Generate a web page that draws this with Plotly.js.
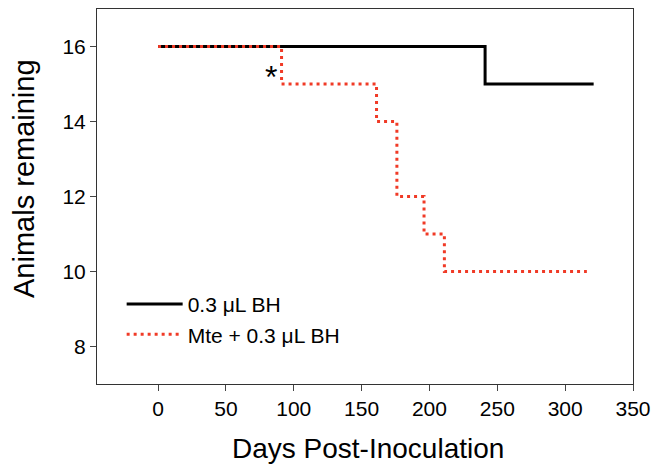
<!DOCTYPE html>
<html>
<head>
<meta charset="utf-8">
<script src="https://cdn.plot.ly/plotly-3.0.1.min.js"></script>
<style>html,body{margin:0;padding:0;background:#fff;}#chart{width:653px;height:468px;}</style>
</head>
<body>
<div id="chart"></div>
<script>
// Data
const seriesNames = ["0.3 \u03bcL BH", "Mte + 0.3 \u03bcL BH"];
const bhDays = [0, 241, 321];
const bhAnimals = [16, 15, 15];
const mteDays = [0, 91, 161, 176, 196, 211, 316];
const mteAnimals = [16, 15, 14, 12, 11, 10, 10];
const xTicks = [0, 50, 100, 150, 200, 250, 300, 350];
const yTicks = [8, 10, 12, 14, 16];
const xTitle = "Days Post-Inoculation";
const yTitle = "Animals remaining";
const starMark = {x: 83, y: 15.2, text: "*"};

const traces = [
  {x: bhDays, y: bhAnimals, name: seriesNames[0], type: "scatter", mode: "lines",
   line: {shape: "hv", color: "#000000", width: 3}},
  {x: mteDays, y: mteAnimals, name: seriesNames[1], type: "scatter", mode: "lines",
   line: {shape: "hv", color: "#f03a26", width: 3, dash: "3px,4px"}}
];

const FAM = "Arial, Liberation Sans, sans-serif";
const axisFont = {family: FAM, size: 21, color: "#000"};
const layout = {
  width: 653, height: 468,
  margin: {l: 97, r: 20, t: 9, b: 84},
  paper_bgcolor: "#fff", plot_bgcolor: "#fff",
  font: {family: FAM, color: "#000"},
  showlegend: true,
  legend: {x: 0.046, y: 0.267, xanchor: "left", yanchor: "top",
           font: {family: FAM, size: 21, color: "#000"},
           bgcolor: "rgba(0,0,0,0)", itemwidth: 56, tracegroupgap: 0},
  xaxis: {range: [-45, 350], tickvals: xTicks, ticktext: xTicks.map(String),
          ticks: "outside", ticklen: 6, tickcolor: "#444", tickfont: axisFont,
          showgrid: false, zeroline: false, showline: true, linecolor: "#333", linewidth: 1,
          mirror: true},
  yaxis: {range: [7, 17], tickvals: yTicks, ticktext: yTicks.map(String),
          ticks: "outside", ticklen: 6, tickcolor: "#444", tickfont: axisFont,
          showgrid: false, zeroline: false, showline: true, linecolor: "#333", linewidth: 1,
          mirror: true},
  annotations: [
    {x: starMark.x, y: starMark.y, xref: "x", yref: "y", text: starMark.text,
     showarrow: false, font: {family: FAM, size: 32, color: "#000"}},
    {x: 0.505, y: -0.171, xref: "paper", yref: "paper", text: xTitle, showarrow: false,
     xanchor: "center", yanchor: "middle", font: {family: FAM, size: 28, color: "#000"}},
    {x: -0.136, y: 0.547, xref: "paper", yref: "paper", text: yTitle, showarrow: false,
     textangle: -90, xanchor: "center", yanchor: "middle", font: {family: FAM, size: 29, color: "#000"}}
  ]
};
Plotly.newPlot("chart", traces, layout, {displayModeBar: false, staticPlot: true});
</script>
</body>
</html>
